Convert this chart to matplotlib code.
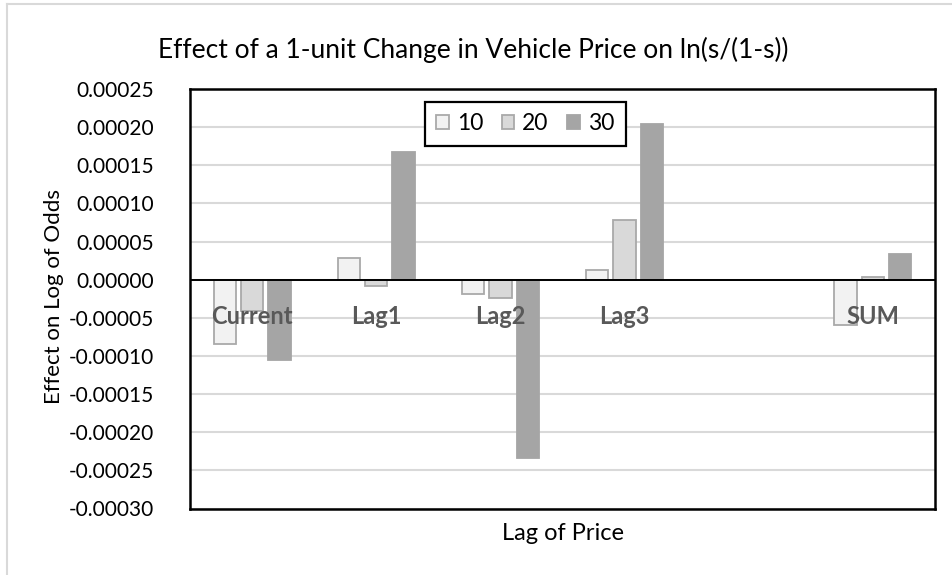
import matplotlib.pyplot as plt
import numpy as np
from matplotlib.lines import Line2D

plt.rcParams['font.family'] = ['Lato', 'DejaVu Sans']

categories = ['Current', 'Lag1', 'Lag2', 'Lag3', '', 'SUM']
series_names = ['10', '20', '30']
vals_10 = [-0.0000840, 0.0000283, -0.0000183, 0.0000126, np.nan, -0.0000598]
vals_20 = [-0.0000410, -0.0000084, -0.0000240, 0.0000780, np.nan, 0.0000030]
vals_30 = [-0.0001047, 0.0001670, -0.0002335, 0.0002040, np.nan, 0.0000340]
yticks = np.arange(-0.00030, 0.000251, 0.00005)

FACE = ['#F2F2F2', '#D9D9D9', '#A5A5A5']
EDGE = ['#A9A9A9', '#A9A9A9', '#A5A5A5']
TXT = '#595959'

fig = plt.figure(figsize=(9.53, 5.75), dpi=100)
ax = fig.add_axes([190 / 953, 1 - 508.5 / 575, 745 / 953, 419.5 / 575])

x = np.arange(len(categories))
width = 0.18
step = 0.22
for k, (vals, name) in enumerate(zip([vals_10, vals_20, vals_30], series_names)):
    ax.bar(x + (k - 1) * step, vals, width=width, color=FACE[k],
           edgecolor=EDGE[k], linewidth=1.3, label=name, zorder=3)

ax.set_xlim(-0.5, len(categories) - 0.5)
ax.set_ylim(-0.00030, 0.00025)
ax.set_yticks(yticks)
ax.set_yticklabels([f'{v:.5f}' for v in yticks])
ax.set_xticks([])
ax.tick_params(axis='y', length=0, labelsize=15, pad=26, colors='black')
ax.grid(axis='y', color='#D9D9D9', linewidth=1.5, zorder=0)
ax.axhline(0, color='black', linewidth=1.4, zorder=4)
for s in ax.spines.values():
    s.set_color('black')
    s.set_linewidth(1.8)

for i, c in enumerate(categories):
    ax.annotate(c, xy=(i, 0), xytext=(0, -26.6), textcoords='offset points',
                ha='center', va='center', fontsize=17, fontweight='bold',
                color=TXT, zorder=5)

fig.text(54 / 953, 1 - 297 / 575, 'Effect on Log of Odds', rotation=90,
         ha='center', va='center', fontsize=16)
fig.text(562.5 / 953, 1 - 533 / 575, 'Lag of Price', ha='center', va='center',
         fontsize=17)

leg = ax.legend(loc='center', bbox_to_anchor=(0.45, 0.917), ncol=3,
                fontsize=16.5, frameon=True, fancybox=False, framealpha=1,
                edgecolor='black', handlelength=0.55, handleheight=0.55,
                handletextpad=0.35, columnspacing=0.8, borderpad=0.5,
                borderaxespad=0)
leg.get_frame().set_linewidth(1.6)

fig.text(473 / 953, 1 - 50 / 575, 'Effect of a 1-unit Change in Vehicle Price on ln(s/(1-s))',
         ha='center', va='center', fontsize=19)

# outer chart border (partially visible)
fig.add_artist(Line2D([7 / 953, 7 / 953], [0, 1 - 4 / 575], transform=fig.transFigure,
                      color='#D9D9D9', linewidth=1.5))
fig.add_artist(Line2D([7 / 953, 1], [1 - 4 / 575, 1 - 4 / 575], transform=fig.transFigure,
                      color='#D9D9D9', linewidth=1.5))

fig.savefig('out.png', dpi=100)
